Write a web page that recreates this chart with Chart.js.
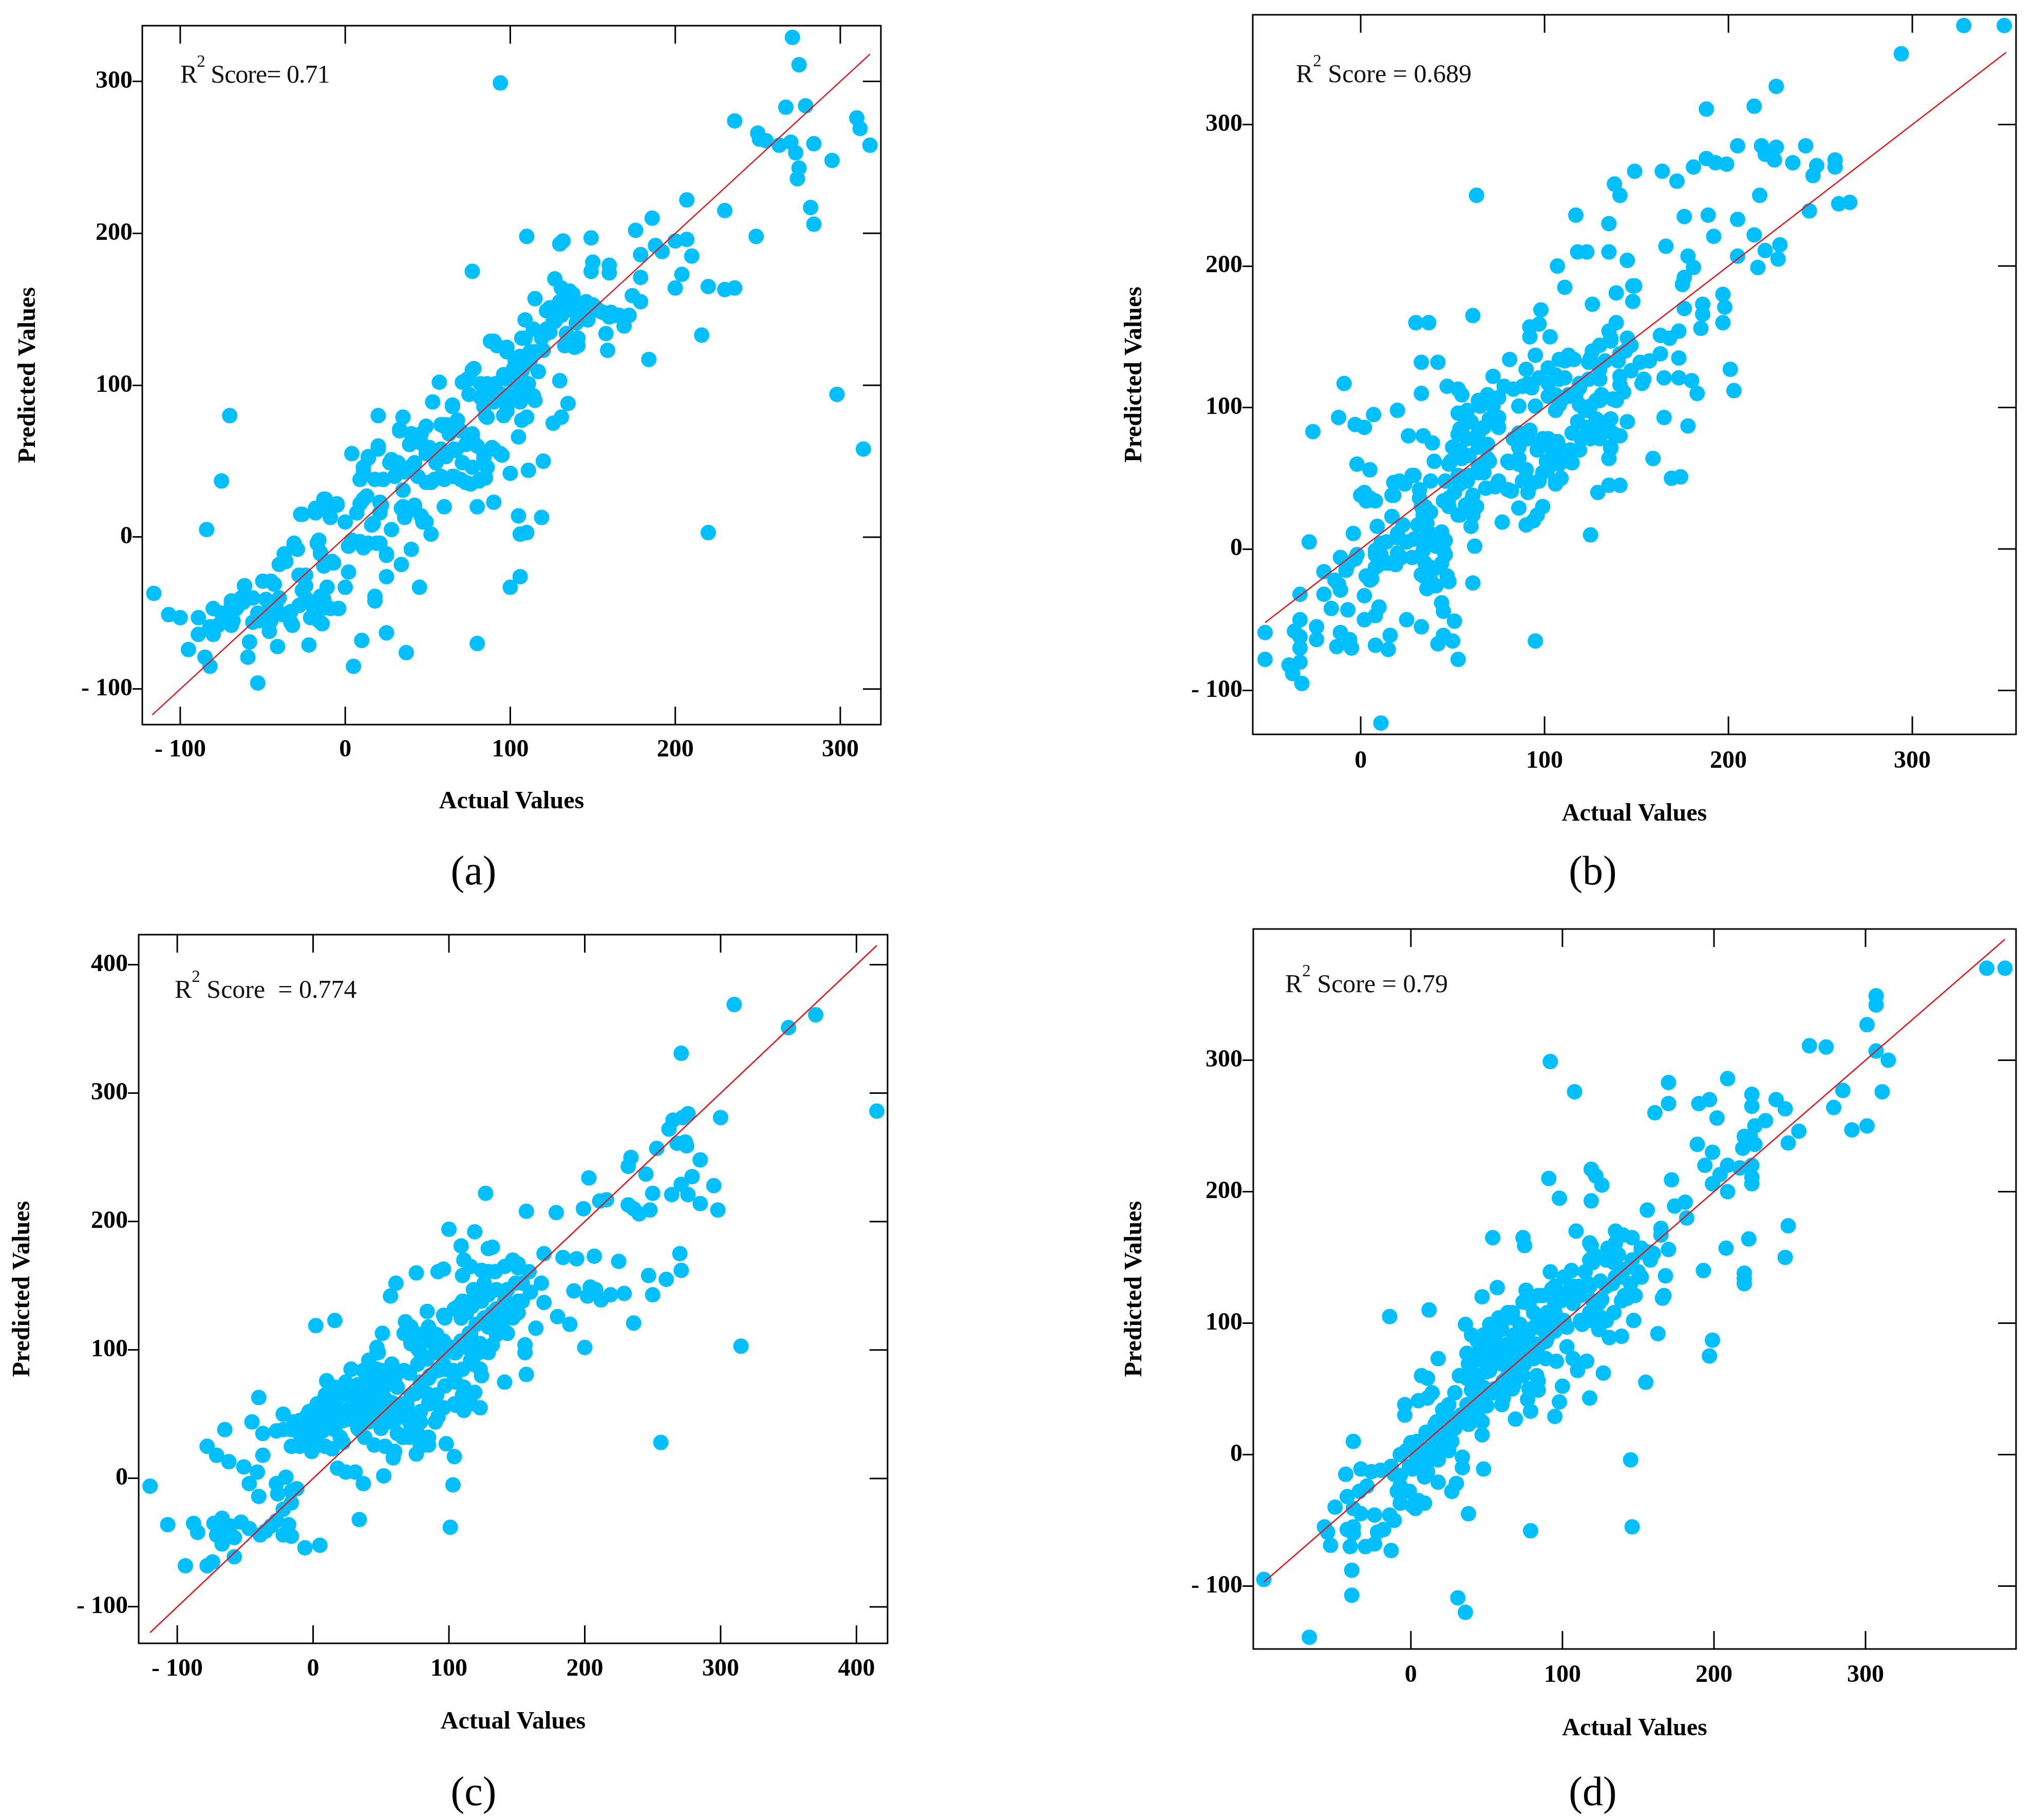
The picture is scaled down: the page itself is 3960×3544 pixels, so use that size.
<!DOCTYPE html>
<html>
<head>
<meta charset="utf-8">
<script src="https://cdn.jsdelivr.net/npm/chart.js@4.4.0/dist/chart.umd.min.js"></script>
<style>
html, body { margin: 0; padding: 0; background: #fff; }
body { width: 3960px; height: 3544px; position: relative; overflow: hidden; font-family: "Liberation Serif", "Times New Roman", serif; }
canvas { position: absolute; }
.r2 { position: absolute; font-size: 50px; line-height: 1; white-space: pre; color: #111; }
.r2 .sup { font-size: 0.66em; vertical-align: 0.94em; line-height: 0; }
.cap { position: absolute; width: 400px; text-align: center; font-size: 80px; line-height: 1; color: #000; }
</style>
</head>
<body>
<canvas id="chartA" width="1760" height="1640" style="left:0px;top:0px"></canvas>
<canvas id="chartB" width="1810" height="1640" style="left:2150px;top:0px"></canvas>
<canvas id="chartC" width="1760" height="1640" style="left:0px;top:1780px"></canvas>
<canvas id="chartD" width="1810" height="1640" style="left:2150px;top:1780px"></canvas>

<div class="r2" style="left:351px;top:119px;letter-spacing:-1px">R<span class="sup">2</span> Score= 0.71</div>
<div class="r2" style="left:2523px;top:118px">R<span class="sup">2</span> Score = 0.689</div>
<div class="r2" style="left:340px;top:1901px">R<span class="sup">2</span> Score  = 0.774</div>
<div class="r2" style="left:2502px;top:1890px">R<span class="sup">2</span> Score = 0.79</div>

<div class="cap" style="left:722px;top:1655px">(a)</div>
<div class="cap" style="left:2901px;top:1655px">(b)</div>
<div class="cap" style="left:722px;top:3448px">(c)</div>
<div class="cap" style="left:2901px;top:3448px">(d)</div>

<script>
// [actual, predicted] pairs
var pointsA = [[94,299],[271,329],[275,311],[279,284],[267,283],[236,274],[250,266],[251,262],[255,261],[263,258],[270,260],[273,253],[275,243],[274,236],[284,259],[295,248],[310,276],[312,269],[318,258],[282,217],[284,206],[298,94],[314,58],[220,3],[216,133],[230,215],[249,198],[230,163],[236,164],[220,165],[207,222],[207,196],[210,185],[204,173],[200,164],[200,195],[192,188],[188,192],[186,210],[176,202],[179,186],[179,171],[179,155],[174,159],[184,117],[172,146],[169,139],[164,146],[158,134],[159,123],[150,181],[160,179],[160,174],[149,197],[149,175],[130,193],[132,195],[127,170],[136,162],[137,153],[142,151],[147,148],[152,151],[156,148],[140,141],[141,131],[139,125],[126,146],[122,137],[120,123],[115,157],[110,198],[109,143],[109,131],[130,103],[135,88],[131,79],[126,75],[115,90],[110,79],[107,77],[105,66],[120,50],[111,44],[100,42],[119,13],[105,14],[106,2],[110,3],[106,-26],[100,-33],[80,-70],[90,23],[80,20],[77,175],[88,129],[92,126],[98,122],[103,116],[107,109],[104,101],[96,107],[91,101],[86,101],[86,94],[84,86],[86,79],[98,83],[95,94],[109,98],[112,94],[105,94],[100,94],[78,111],[75,104],[71,102],[75,94],[57,102],[53,89],[65,86],[68,77],[70,70],[63,68],[60,73],[49,73],[35,79],[33,70],[40,68],[46,62],[51,59],[56,55],[61,53],[67,57],[77,66],[80,60],[84,55],[89,59],[94,55],[86,46],[82,38],[76,35],[70,38],[65,40],[60,38],[54,38],[49,36],[44,40],[39,46],[32,49],[28,51],[35,31],[60,20],[20,80],[20,60],[14,53],[11,46],[18,38],[23,38],[9,38],[4,55],[13,27],[9,22],[21,23],[21,16],[16,8],[0,10],[-5,22],[-13,25],[-10,16],[-18,16],[-27,15],[35,20],[42,18],[46,14],[49,10],[52,2],[40,-8],[34,-18],[25,-12],[21,-4],[14,-4],[9,-3],[2,-6],[2,-23],[0,-33],[25,-26],[18,-39],[18,-42],[10,-68],[25,-63],[37,-76],[45,-33],[5,-85],[-4,-47],[-11,-33],[-15,-39],[-19,-43],[-14,-47],[-21,-53],[-14,-57],[-22,-71],[-41,-72],[-53,-96],[-28,-25],[-24,-32],[-24,-40],[-28,-45],[-33,-49],[-33,-56],[-38,-51],[-42,-45],[-47,-49],[-46,-62],[-52,-55],[-40,-40],[-45,-29],[-50,-29],[-56,-40],[-61,-32],[-62,-43],[-66,-47],[-69,-42],[-73,-53],[-68,-55],[-58,-69],[-59,-79],[-77,-58],[-80,-47],[-80,-64],[-89,-53],[-89,-64],[-85,-79],[-82,-85],[-95,-74],[-100,-53],[-107,-51],[-116,-37],[-84,5],[-75,37],[-70,80],[-36,-16],[-40,-18],[-31,-4],[-29,-8],[-17,-4],[-15,-10],[-10,-17],[-8,-16],[-7,-17],[-13,-19],[28,5],[119,131],[124,135],[126,142],[131,146],[134,150],[143,146],[138,159],[115,122],[112,116],[109,113],[102,111],[117,109],[133,126],[150,153],[161,148],[166,146],[124,151],[131,164],
  [-75,-50],[-69,-44],[-63,-40],[-61,-32],[-53,-50],[-48,-41],[-43,-31],[-45,-55],[-34,-50],[-32,-58],[-24,-25],[-26,-35],[-21,-44],[-16,-55],[-13,-41],[-9,-47],[-4,-47],[-82,-59],[-69,-58],[-56,-56],
  [-26,15],[-18,19],[-12,25],[-5,21],[-9,13],[-31,-5],[-37,-11],[-16,-2],[-10,-17],[-15,-11],[4,-2],[11,-7],[19,-4],[25,-11],[11,25],[7,16],[17,9],[22,21],[34,19],[42,21],[47,10],[36,13],
  [11,43],[14,52],[20,58],[27,49],[30,40],[36,43],[42,49],[49,55],[55,49],[58,40],[66,40],[71,49],[77,46],[84,52],[90,58],[95,54],[81,37],[85,39],[73,36],[52,36],[46,68],[39,61],[33,71],[58,58],[66,58],[73,61],[77,68],[65,74],[58,74],
  [74,104],[82,101],[90,98],[98,104],[106,107],[111,101],[114,93],[106,89],[98,86],[90,89],[85,80],[96,80],[82,92],[77,110],[65,87],[61,74],
  [90,129],[98,125],[106,119],[107,131],[114,137],[122,134],[122,149],[130,155],[138,149],[138,160],[146,155],[147,143],[154,149],[160,145],[127,142],[134,134],[141,126],[112,122]];

var pointsB = [[328,370],[350,370],[294,350],[226,327],[214,313],[188,311],[63,250],[205,285],[218,285],[220,279],[226,284],[225,275],[242,285],[235,273],[258,275],[258,270],[248,271],[246,264],[188,276],[193,273],[199,272],[181,270],[172,260],[164,267],[149,267],[138,258],[141,250],[135,230],[117,236],[217,250],[205,233],[189,236],[176,235],[192,221],[166,214],[135,210],[118,210],[123,210],[107,200],[111,185],[145,204],[214,222],[220,211],[228,215],[227,205],[216,199],[205,207],[244,239],[260,244],[266,245],[178,207],[181,199],[175,187],[176,192],[149,186],[148,186],[148,175],[139,181],[126,173],[197,180],[198,171],[197,160],[186,173],[186,166],[185,156],[176,170],[173,154],[163,151],[168,149],[173,135],[163,138],[157,133],[144,140],[145,149],[139,160],[135,154],[136,147],[140,133],[126,140],[125,135],[141,122],[143,111],[153,117],[165,121],[173,121],[180,119],[183,110],[201,127],[203,112],[178,87],[165,93],[159,64],[169,50],[174,51],[145,90],[136,92],[137,82],[141,80],[136,71],[135,64],[135,45],[141,45],[129,40],[125,10],[95,-65],[137,106],[131,109],[128,105],[125,101],[123,86],[118,90],[115,82],[114,70],[115,61],[109,50],[106,46],[99,30],[96,24],[90,17],[94,20],[111,133],[116,134],[103,150],[97,159],[98,169],[92,157],[92,150],[95,137],[90,127],[88,115],[93,114],[95,101],[92,84],[86,82],[83,78],[81,61],[86,64],[90,56],[88,48],[93,46],[99,54],[101,62],[104,70],[107,76],[99,78],[106,98],[109,105],[113,109],[106,109],[102,117],[106,123],[111,121],[119,117],[72,122],[81,134],[78,115],[75,107],[72,101],[70,92],[75,86],[69,74],[70,62],[67,54],[73,44],[82,41],[86,29],[77,19],[64,105],[60,90],[55,82],[54,70],[59,66],[64,58],[59,52],[54,46],[51,40],[60,34],[63,30],[55,109],[47,115],[53,113],[58,98],[49,62],[46,48],[45,34],[48,30],[54,24],[60,16],[62,2],[61,-24],[53,-78],[51,-51],[50,-65],[45,-61],[42,-67],[44,-38],[45,-44],[48,-23],[41,-26],[38,-22],[36,-28],[33,-18],[35,-10],[40,-14],[44,-10],[46,-4],[41,2],[46,6],[44,12],[40,10],[35,4],[36,18],[34,24],[38,26],[35,30],[32,36],[32,42],[38,48],[40,62],[39,75],[34,80],[26,80],[29,52],[33,110],[33,132],[42,132],[30,160],[37,160],[61,165],[20,98],[18,47],[24,46],[18,38],[17,23],[23,17],[20,8],[29,7],[28,-6],[22,-6],[19,-11],[11,-4],[12,-10],[9,-12],[6,-21],[8,-4],[11,4],[9,16],[8,34],[2,40],[3,34],[5,56],[-2,60],[2,86],[7,95],[-3,88],[-12,93],[-9,117],[-26,83],[-4,11],[-2,-4],[-7,-11],[-11,-6],[2,-33],[2,-50],[10,-41],[8,-47],[8,-68],[15,-71],[16,-61],[25,-50],[33,-55],[11,-123],[-28,5],[-20,-16],[-14,-22],[-11,-29],[-20,-32],[-16,-42],[-7,-43],[-33,-32],[-33,-50],[-24,-55],[-24,-64],[-36,-58],[-33,-62],[-33,-70],[-33,-80],[-13,-69],[-11,-59],[-6,-64],[-5,-70],[-39,-82],[-37,-88],[-32,-95],[-52,-59],[-52,-78],[54,85],[58,78],[64,82],[67,86],[72,92],[75,93],[65,101],[69,109],[83,113],[86,101],[90,82],[96,70],[106,66],[109,62],[119,70],[120,78],[125,78],[128,92],[131,86],[122,98],[117,109],[133,133],[130,127],
  [53,96],[57,89],[53,81],[50,72],[55,64],[48,60],[53,52],[58,48],[64,54],[64,72],[69,64],[66,60],[61,38],[57,31],[48,36],[53,24],[61,24],[68,43],[75,48],[80,42],
  [80,62],[86,72],[91,78],[97,72],[102,78],[108,72],[108,60],[113,62],[90,50],[97,48],[106,48],[102,57],[86,60],[91,40],
  [91,117],[97,121],[102,128],[108,134],[113,137],[108,120],[102,108],[108,102],[113,108],[119,114],[124,120],[119,102],[124,98],[130,105],[130,120],[124,132],[130,144],[136,149],[141,138],[147,144],[147,126],[141,116],[139,105],[130,90],[124,81],[130,78],[136,72],[152,132],[154,120],
  [-3,-7],[8,-1],[14,5],[20,11],[20,-3],[25,5],[31,17],[33,30],[36,11],[34,-1],[39,5],[44,11],[45,-1],[38,-13],[34,-19],[39,-25],[47,-19],[8,-13],[3,-19],[15,-10],[-8,-15],[-12,-25],[5,-22],
  [0,38],[5,36],[17,38],[21,48],[28,52]];

var pointsC = [[310,369],[350,351],[370,361],[271,331],[415,286],[315,103],[256,28],[300,281],[253,257],[234,250],[232,243],[245,237],[262,272],[265,279],[272,281],[276,284],[268,261],[274,262],[275,259],[285,248],[250,222],[279,235],[271,229],[264,221],[276,221],[295,228],[285,214],[298,209],[232,213],[240,206],[248,209],[236,210],[211,216],[216,217],[203,234],[199,210],[179,207],[157,208],[127,222],[100,194],[119,192],[225,169],[207,173],[194,171],[184,172],[170,175],[270,175],[271,162],[260,155],[247,158],[250,143],[236,121],[229,144],[219,143],[212,139],[208,147],[204,149],[202,142],[192,146],[189,120],[180,126],[200,102],[168,152],[170,137],[164,117],[159,161],[156,98],[157,81],[141,75],[156,104],[109,181],[132,180],[129,179],[111,170],[124,162],[92,161],[96,163],[76,160],[61,152],[57,142],[68,122],[84,130],[2,119],[16,123],[67,113],[72,107],[77,101],[86,107],[96,107],[96,127],[109,125],[117,134],[124,138],[129,143],[135,147],[143,147],[151,164],[149,152],[141,138],[137,125],[130,118],[147,125],[143,113],[132,104],[122,98],[118,89],[124,80],[119,67],[123,55],[115,58],[111,71],[105,75],[103,84],[96,89],[105,98],[113,102],[92,84],[86,80],[79,75],[75,66],[84,66],[90,59],[96,55],[105,57],[111,53],[69,57],[64,48],[71,44],[62,35],[71,32],[76,19],[85,26],[98,27],[104,17],[103,-5],[101,-38],[59,16],[52,2],[45,26],[38,32],[33,39],[28,46],[41,44],[50,39],[56,44],[50,53],[41,53],[35,57],[28,62],[24,66],[28,85],[37,84],[45,75],[50,84],[54,75],[62,71],[67,84],[58,89],[48,98],[51,113],[47,102],[41,66],[18,63],[10,76],[14,57],[9,48],[1,54],[1,35],[5,26],[-1,21],[-8,26],[-10,35],[-14,44],[-6,39],[7,37],[14,39],[20,32],[14,23],[18,8],[24,5],[31,5],[37,-4],[34,-32],[-6,-54],[5,-52],[-22,50],[-27,37],[-37,18],[-40,63],[-45,44],[-37,35],[-51,9],[-41,5],[-47,-4],[-40,-14],[-27,-4],[-26,-12],[-20,1],[-16,-10],[-12,-8],[-16,-19],[-22,-24],[-18,-36],[-27,-33],[-22,-44],[-16,-45],[-31,-37],[-35,-41],[-39,-44],[-47,-39],[-53,-34],[-61,-37],[-65,-42],[-58,-46],[-67,-31],[-73,-35],[-71,-44],[-67,-51],[-58,-61],[-74,-65],[-78,-68],[-88,-35],[-85,-42],[-94,-68],[-107,-36],[-120,-6],[-78,25],[-71,18],[-62,13],[-65,38],[7,53],[16,48],[22,53],[28,53],[33,48],[38,64],[43,59],[48,64],[53,62],[58,59],[60,53],[67,50],[75,48],[79,44],[77,35],[90,44],[92,48],[1,44],[-5,48],[9,64],[16,71],[24,75],[33,73],[41,80],[52,80],[62,82],[71,82],[77,89],[84,93],[90,98],[96,98],[103,102],[109,107],[115,113],[120,120],[126,125],[132,129],[139,131],[145,134],[151,138],[139,120],[151,129],[113,129],[107,134],[118,147],[126,152],[134,161],[141,165],[147,170],[151,167],
  [-16,38],[-10,45],[-3,52],[-3,32],[-10,25],[3,38],[9,45],[9,25],[16,58],[16,38],[22,45],[22,28],[28,52],[28,65],[34,72],[34,38],[41,58],[41,78],[47,85],[47,65],[47,45],[53,52],[53,72],[60,78],[60,45],[66,32],[66,58],[72,65],[72,38],[79,52],[79,72],[85,78],[85,58],[91,65],[97,72],[97,85],[104,78],[104,58],[110,65],[116,58],[104,98],[110,105],[110,85],[116,92],[116,112],[123,105],[123,85],[129,118],[129,98],[135,112],[135,132],[142,125],[142,138],[148,132],[154,138],[154,152],[160,145],[72,105],[79,112],[85,118],[72,118],[79,98],[91,112],[97,125],[104,132],[110,138],[116,138],[123,145],[110,158],[129,161],[116,165],[47,98],[41,92],[28,85],[9,65],[3,58],[-16,25],[-22,38],[53,25],[60,21],[79,25],[85,32]];

var pointsD = [[380,370],[392,370],[307,349],[307,342],[301,327],[307,307],[315,300],[311,276],[263,311],[274,310],[285,277],[279,264],[291,247],[301,250],[256,246],[249,237],[247,263],[241,270],[234,254],[225,274],[225,265],[227,250],[227,236],[220,242],[219,233],[224,242],[225,220],[225,211],[225,206],[217,218],[209,286],[209,220],[209,200],[208,157],[204,213],[199,206],[202,256],[197,270],[190,267],[189,236],[194,220],[199,230],[223,164],[220,138],[220,130],[220,134],[249,174],[247,150],[193,140],[199,87],[197,75],[170,283],[170,267],[161,260],[172,209],[174,189],[181,192],[182,180],[156,186],[165,172],[165,167],[170,156],[168,136],[167,121],[166,119],[163,92],[155,55],[145,-4],[146,-55],[147,102],[139,90],[131,89],[119,217],[122,212],[126,205],[119,193],[98,195],[91,210],[92,299],[108,276],[109,170],[135,170],[140,167],[146,165],[152,157],[160,153],[158,148],[130,157],[137,152],[134,146],[119,159],[121,152],[120,146],[115,139],[106,140],[105,126],[111,128],[117,130],[125,132],[133,130],[139,135],[145,130],[150,139],[148,121],[143,119],[139,117],[134,108],[126,118],[120,117],[126,104],[118,102],[113,99],[103,97],[95,94],[95,108],[99,117],[93,126],[92,139],[87,121],[81,108],[76,125],[74,116],[72,99],[79,95],[87,95],[89,86],[83,84],[75,84],[72,77],[68,71],[75,69],[81,73],[89,73],[96,71],[103,82],[107,73],[110,64],[116,71],[127,62],[118,43],[100,52],[98,40],[95,29],[84,49],[79,33],[77,42],[83,60],[74,60],[68,53],[69,27],[60,38],[58,51],[64,60],[60,69],[56,77],[64,84],[60,95],[58,104],[64,108],[67,104],[52,99],[48,91],[40,91],[36,99],[47,120],[57,127],[54,165],[74,165],[75,159],[37,77],[44,77],[40,69],[48,71],[52,64],[44,60],[37,58],[40,49],[48,51],[54,47],[48,40],[42,38],[37,38],[34,29],[40,25],[47,25],[47,15],[48,-11],[34,-2],[34,-10],[30,-22],[27,-28],[31,-109],[36,-120],[38,-45],[79,-58],[25,29],[29,20],[23,14],[17,9],[11,16],[15,3],[9,-2],[5,-6],[1,-11],[-3,3],[-7,0],[0,9],[5,3],[11,-13],[9,-17],[18,-4],[25,3],[18,-21],[-4,38],[-4,30],[5,41],[11,43],[14,47],[7,60],[11,58],[18,73],[12,110],[-14,105],[-11,-15],[-9,-28],[-7,-24],[-7,-37],[-1,-28],[1,-39],[5,-35],[9,-37],[3,-41],[-14,-46],[-11,-50],[-13,-73],[-18,-57],[-22,-59],[-24,-46],[-20,-12],[-26,-13],[-33,-11],[-29,-24],[-34,-28],[-33,-45],[-38,-41],[-42,-32],[-50,-40],[-43,-15],[-38,10],[-38,-55],[-42,-57],[-38,-60],[-40,-70],[-30,-70],[-24,-68],[-57,-55],[-55,-59],[-53,-69],[-39,-88],[-39,-107],[-67,-139],[-97,-95],[72,86],[77,90],[83,99],[89,104],[93,99],[68,91],[64,77],[70,64],[54,71],[50,77],[44,86],[56,86],[32,60],[29,47],[25,38],[21,34],[17,25],
  [38,69],[44,76],[44,56],[50,63],[50,82],[55,69],[55,50],[61,76],[61,56],[67,63],[67,82],[72,69],[72,89],[78,76],[78,95],[84,82],[84,102],[90,89],[90,108],[95,95],[95,115],[101,102],[101,121],[107,115],[107,128],[112,121],[112,102],[118,128],[118,108],[124,115],[129,128],[135,135],[141,141],[146,148],[152,154],[158,154],[152,135],[141,121],[129,102],[124,95],[55,89],[61,102],[67,108],[78,115],[84,121],[95,128],[101,135],[118,148],[118,161],[135,161],[129,148],[44,43],[38,37],[33,30],[44,30],[50,37],[61,43],[67,50],[78,50],[84,56],[27,23],[21,17],[16,10],[10,4],[4,-3],[-1,-9],[-7,-16],[16,23],[10,17],[27,10],[21,4],[4,10],[-1,4],[38,23],[10,-9],[16,-3],[-13,-9]];

// ends of the red y = x line
var fitA = [-117, 318];
var fitB = [-52, 351];
var fitC = [-120, 415];
var fitD = [-97, 392];

// axis ranges
var xRangeA = [-123, 324.6], yRangeA = [-123.4, 336.7];
var xRangeB = [-58.7, 356.4], yRangeB = [-131, 377.6];
var xRangeC = [-128.4, 422.9], yRangeC = [-128.4, 423.4];
var xRangeD = [-104, 399.3], yRangeD = [-147.9, 399.8];

// tick labels
var xTicksA = [-100, 0, 100, 200, 300], yTicksA = [-100, 0, 100, 200, 300];
var xTicksB = [0, 100, 200, 300], yTicksB = [-100, 0, 100, 200, 300];
var xTicksC = [-100, 0, 100, 200, 300, 400], yTicksC = [-100, 0, 100, 200, 300, 400];
var xTicksD = [0, 100, 200, 300], yTicksD = [-100, 0, 100, 200, 300];

var BLUE = '#00bfff';
var RED = '#e3161b';
var FONT = { family: '"Liberation Serif", "Times New Roman", serif', size: 48, weight: 'bold' };

function fmt(v) {
    return v < 0 ? '- ' + Math.abs(v) : String(v);
}

// box frame plus the inward ticks on top, right and bottom
var framePlugin = {
    id: 'frame',
    afterDraw: function (chart) {
        var ctx = chart.ctx, a = chart.chartArea;
        var x = chart.scales.x, y = chart.scales.y;
        ctx.save();
        ctx.strokeStyle = '#000';
        ctx.lineWidth = 3;
        ctx.strokeRect(a.left, a.top, a.right - a.left, a.bottom - a.top);
        ctx.beginPath();
        x.ticks.forEach(function (t) {
            var px = x.getPixelForValue(t.value);
            ctx.moveTo(px, a.top); ctx.lineTo(px, a.top + 35);
            ctx.moveTo(px, a.bottom); ctx.lineTo(px, a.bottom - 35);
        });
        y.ticks.forEach(function (t) {
            var py = y.getPixelForValue(t.value);
            ctx.moveTo(a.right, py); ctx.lineTo(a.right - 35, py);
        });
        ctx.stroke();
        ctx.restore();
    }
};

function makeChart(id, pts, fit, xr, yr, xt, yt, lay) {
    return new Chart(document.getElementById(id), {
        type: 'scatter',
        data: {
            datasets: [{
                type: 'line',
                data: [{ x: fit[0], y: fit[0] }, { x: fit[1], y: fit[1] }],
                borderColor: RED,
                borderWidth: 2.5,
                pointRadius: 0,
                order: 0
            }, {
                data: pts.map(function (p) { return { x: p[0], y: p[1] }; }),
                backgroundColor: BLUE,
                borderWidth: 0,
                pointRadius: 15,
                order: 1
            }]
        },
        options: {
            responsive: false,
            animation: false,
            devicePixelRatio: 1,
            layout: { padding: { top: lay.padT, right: lay.padR, left: 0, bottom: 0 } },
            plugins: { legend: { display: false }, tooltip: { enabled: false } },
            scales: {
                x: {
                    type: 'linear', position: 'bottom', min: xr[0], max: xr[1],
                    afterBuildTicks: function (s) { s.ticks = xt.map(function (v) { return { value: v }; }); },
                    afterFit: function (s) { s.height = lay.xH; },
                    grid: { drawOnChartArea: false, drawTicks: false },
                    border: { display: false },
                    ticks: { font: FONT, color: '#000', padding: lay.xTickPad, maxRotation: 0, autoSkip: false, callback: fmt },
                    title: { display: true, text: 'Actual Values', font: FONT, color: '#000', padding: { top: 0, bottom: lay.xTitlePad } }
                },
                y: {
                    type: 'linear', position: 'left', min: yr[0], max: yr[1],
                    afterBuildTicks: function (s) { s.ticks = yt.map(function (v) { return { value: v }; }); },
                    afterFit: function (s) { s.width = lay.yW; },
                    grid: { drawOnChartArea: false, drawTicks: true, tickLength: lay.yTickLen, color: '#000', lineWidth: 3 },
                    border: { display: false },
                    ticks: { font: FONT, color: '#000', padding: 0, autoSkip: false, callback: fmt },
                    title: { display: true, text: 'Predicted Values', font: FONT, color: '#000', padding: { top: lay.yTitlePad, bottom: 0 } }
                }
            }
        },
        plugins: [framePlugin]
    });
}

makeChart('chartA', pointsA, fitA, xRangeA, yRangeA, xTicksA, yTicksA,
    { yW: 277, padT: 50, padR: 45, xH: 229, yTitlePad: 27, yTickLen: 19, xTickPad: 21, xTitlePad: 50 });
makeChart('chartB', pointsB, fitB, xRangeB, yRangeB, xTicksB, yTicksB,
    { yW: 289, padT: 28, padR: 35, xH: 210, yTitlePad: 31, yTickLen: 20, xTickPad: 24, xTitlePad: 26 });
makeChart('chartC', pointsC, fitC, xRangeC, yRangeC, xTicksC, yTicksC,
    { yW: 270, padT: 40, padR: 32, xH: 220, yTitlePad: 16, yTickLen: 21, xTickPad: 22, xTitlePad: 38 });
makeChart('chartD', pointsD, fitD, xRangeD, yRangeD, xTicksD, yTicksD,
    { yW: 290, padT: 29, padR: 35, xH: 209, yTitlePad: 31, yTickLen: 21, xTickPad: 23, xTitlePad: 25 });
</script>
</body>
</html>
